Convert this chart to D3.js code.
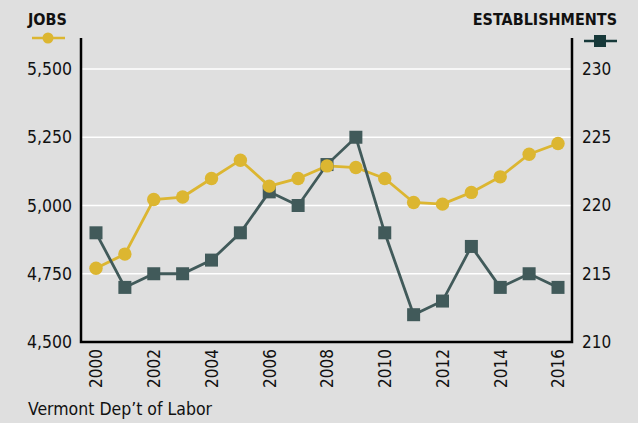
<!DOCTYPE html>
<html lang="en">
<head>
    <meta charset="UTF-8">
    <title>Vermont jobs and establishments</title>
    <script src="https://d3js.org/d3.v7.min.js"></script>
    <style>
        body {
            margin: 0;
            background: #dfdfdf;
            font-family: "Liberation Sans Narrow", "DejaVu Sans Condensed", Arial, sans-serif;
        }

        .tick-label {
            font-size: 17px;
            fill: #111;
        }

        .header {
            font-size: 16px;
            font-weight: bold;
            fill: #111;
        }
    </style>
</head>
<body>
    <svg id="chart"></svg>

    <script>
        // Data
        const years = [2000, 2001, 2002, 2003, 2004, 2005, 2006, 2007, 2008,
                       2009, 2010, 2011, 2012, 2013, 2014, 2015, 2016];
        const jobs = [4770, 4822, 5022, 5031, 5099, 5166, 5071, 5099, 5145,
                      5139, 5099, 5011, 5005, 5048, 5105, 5188, 5227];
        const establishments = [218, 214, 215, 215, 216, 218, 221, 220, 223,
                                225, 218, 212, 213, 217, 214, 215, 214];
        const jobTicks = [4500, 4750, 5000, 5250, 5500];
        const estTicks = [210, 215, 220, 225, 230];
        const yearTicks = [2000, 2002, 2004, 2006, 2008, 2010, 2012, 2014, 2016];

        const width = 638;
        const height = 423;
        const plotLeft = 81, plotRight = 572, plotTop = 38, plotBottom = 342;

        const gold = '#dcb631';
        const slate = '#415a5a';

        const svg = d3.select('#chart')
            .attr('width', width)
            .attr('height', height);

        const x = d3.scaleLinear()
            .domain([2000, 2016])
            .range([96, 558]);

        const yJobs = d3.scaleLinear()
            .domain([4500, 5500])
            .range([plotBottom, 69]);

        const yEst = d3.scaleLinear()
            .domain([210, 230])
            .range([plotBottom, 69]);

        // gridlines
        svg.append('g')
            .selectAll('line')
            .data(jobTicks.slice(1))
            .enter()
            .append('line')
            .attr('x1', plotLeft)
            .attr('x2', plotRight)
            .attr('y1', d => yJobs(d))
            .attr('y2', d => yJobs(d))
            .attr('stroke', '#fff')
            .attr('stroke-width', 1.5);

        // left axis
        const leftAxis = svg.append('g')
            .attr('transform', `translate(${plotLeft},0)`)
            .call(d3.axisLeft(yJobs).tickValues(jobTicks).tickSize(0).tickPadding(9).tickFormat(d3.format(',')));
        leftAxis.select('.domain').remove();
        leftAxis.attr('font-family', null).attr('font-size', null);
        leftAxis.selectAll('text').attr('class', 'tick-label').style('font-size', '17.5px');

        // right axis
        const rightAxis = svg.append('g')
            .attr('transform', `translate(${plotRight},0)`)
            .call(d3.axisRight(yEst).tickValues(estTicks).tickSize(0).tickPadding(10));
        rightAxis.select('.domain').remove();
        rightAxis.attr('font-family', null).attr('font-size', null);
        rightAxis.selectAll('text').attr('class', 'tick-label');

        // bottom axis, year labels rotated
        const bottomAxis = svg.append('g')
            .attr('transform', `translate(0,${plotBottom})`)
            .call(d3.axisBottom(x).tickValues(yearTicks).tickSize(0).tickFormat(d3.format('d')));
        bottomAxis.select('.domain').remove();
        bottomAxis.attr('font-family', null).attr('font-size', null);
        bottomAxis.selectAll('text')
            .attr('class', 'tick-label')
            .attr('transform', 'rotate(-90)')
            .attr('x', -7)
            .attr('y', 0)
            .attr('dy', '0.35em')
            .style('text-anchor', 'end');

        // frame: left, bottom, right
        svg.append('path')
            .attr('d', `M${plotLeft},${plotTop}V${plotBottom}H${plotRight}V${plotTop}`)
            .attr('fill', 'none')
            .attr('stroke', '#000')
            .attr('stroke-width', 2.5);

        // jobs line
        svg.append('path')
            .datum(years)
            .attr('fill', 'none')
            .attr('stroke', gold)
            .attr('stroke-width', 2.8)
            .attr('d', d3.line().x(d => x(d)).y((d, i) => yJobs(jobs[i])));

        // establishments line
        svg.append('path')
            .datum(years)
            .attr('fill', 'none')
            .attr('stroke', slate)
            .attr('stroke-width', 2.8)
            .attr('d', d3.line().x(d => x(d)).y((d, i) => yEst(establishments[i])));

        svg.selectAll('.est-mark')
            .data(years)
            .enter()
            .append('rect')
            .attr('class', 'est-mark')
            .attr('x', d => x(d) - 6.5)
            .attr('y', (d, i) => yEst(establishments[i]) - 6.5)
            .attr('width', 13)
            .attr('height', 13)
            .attr('fill', slate);

        svg.selectAll('.job-mark')
            .data(years)
            .enter()
            .append('circle')
            .attr('class', 'job-mark')
            .attr('cx', d => x(d))
            .attr('cy', (d, i) => yJobs(jobs[i]))
            .attr('r', 6.7)
            .attr('fill', gold);

        // headers and legend keys
        svg.append('text')
            .attr('class', 'header')
            .attr('x', 28)
            .attr('y', 25)
            .text('JOBS');

        svg.append('line')
            .attr('x1', 32).attr('x2', 65)
            .attr('y1', 38).attr('y2', 38)
            .attr('stroke', gold).attr('stroke-width', 2.5);
        svg.append('circle')
            .attr('cx', 48).attr('cy', 38).attr('r', 5.5)
            .attr('fill', gold);

        svg.append('text')
            .attr('class', 'header')
            .attr('x', 617)
            .attr('y', 25)
            .style('text-anchor', 'end')
            .text('ESTABLISHMENTS');

        svg.append('line')
            .attr('x1', 584).attr('x2', 617)
            .attr('y1', 41).attr('y2', 41)
            .attr('stroke', '#17393a').attr('stroke-width', 2.5);
        svg.append('rect')
            .attr('x', 594).attr('y', 35).attr('width', 12).attr('height', 12)
            .attr('fill', '#17393a');

        // source
        svg.append('text')
            .attr('x', 28)
            .attr('y', 415)
            .attr('font-size', 17.5)
            .attr('fill', '#111')
            .text('Vermont Dep\u2019t of Labor');
    </script>
</body>
</html>
